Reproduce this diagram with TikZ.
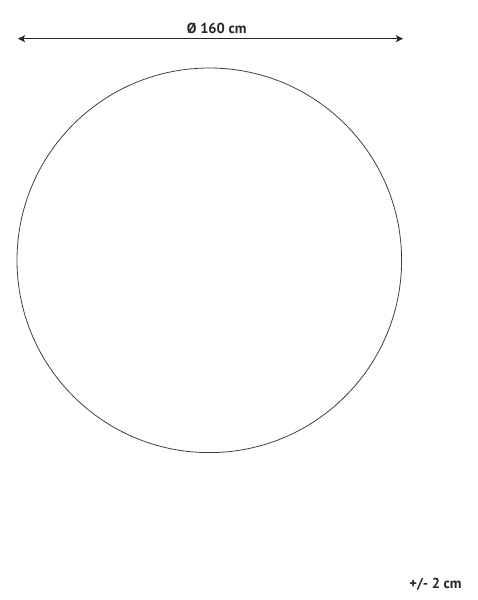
\documentclass[tikz,border=0pt]{standalone}
\usepackage{fontspec}
\setmainfont{PT Sans}
\usetikzlibrary{arrows.meta}
\begin{document}
\begin{tikzpicture}[x=1pt,y=-1pt,
  dimline/.style={line width=1.3pt,color=black!85,{Stealth[length=7pt,width=7pt,inset=1.5pt]}-{Stealth[length=7pt,width=7pt,inset=1.5pt]}},
  rug/.style={circle,draw=black!75,line width=0.8pt,minimum size=384.6pt,inner sep=0pt},
  lbl/.style={font=\bfseries\fontsize{14.5}{17}\selectfont,text=black!85,inner sep=0pt}]
\useasboundingbox (0,0) rectangle (477,600);
\node[rug] (rug) at (209.3,260.3) {};
\coordinate (dl) at (18,38.7);
\coordinate (dr) at (403,38.7);
\draw[dimline] (dl) -- (dr);
\node[lbl] (dia) at (216.7,28.3) {Ø 160 cm};
\node[lbl] (tol) at (435.5,584) {+/- 2 cm};
\end{tikzpicture}
\end{document}
